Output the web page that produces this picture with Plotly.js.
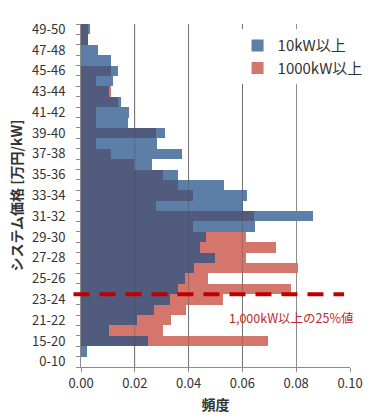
<!DOCTYPE html>
<html>
<head>
<meta charset="utf-8">
<script src="https://cdn.plot.ly/plotly-3.0.1.min.js"></script>
<style>html,body{margin:0;padding:0;background:#fff;}#chart{width:383px;height:419px;}</style>
</head>
<body>
<div id="chart"></div>
<script>
// Price bins (万円/kW), bottom to top
var categories = ['0-10','10-15','15-20','20-21','21-22','22-23','23-24','24-25','25-26','26-27',
  '27-28','28-29','29-30','30-31','31-32','32-33','33-34','34-35','35-36','36-37',
  '37-38','38-39','39-40','40-41','41-42','42-43','43-44','44-45','45-46','46-47',
  '47-48','48-49','49-50'];
// Frequency, 10kW以上
var kw10 = [0, 0.0024, 0.0250, 0.0105, 0.0207, 0.0273, 0.0331, 0.0362, 0.0387, 0.0420,
  0.0498, 0.0442, 0.0464, 0.0646, 0.0863, 0.0603, 0.0618, 0.0532, 0.0359, 0.0265,
  0.0377, 0.0284, 0.0312, 0.0173, 0.0179, 0.0149, 0.0105, 0.0118, 0.0139, 0.0110,
  0.0062, 0.0025, 0.0034];
// Frequency, 1000kW以上
var kw1000 = [0, 0, 0.0696, 0.0306, 0.0333, 0.0389, 0.0529, 0.0780, 0.0473, 0.0807,
  0.0612, 0.0724, 0.0612, 0.0418, 0.0643, 0.0279, 0.0418, 0.0362, 0.0306, 0.0197,
  0.0111, 0.0055, 0.0279, 0.0055, 0.0055, 0.0139, 0.0110, 0.0055, 0.0110, 0,
  0, 0.0025, 0.0025];
var seriesNames = ['10kW以上', '1000kW以上'];
var quartileLabel = '1,000kW以上の25%値';
var quartileBoundary = ['23-24', '24-25']; // line drawn between these bins
var xTicks = [0.02, 0.04, 0.06, 0.08, 0.10];

var idx = categories.map(function(c, i){ return i; });
var overlap = kw10.map(function(v, i){ return Math.min(v, kw1000[i]); });
var tickIdx = idx.filter(function(i){ return i % 2 === 0; });
var tickTxt = tickIdx.map(function(i){ return categories[i]; });
var lineY = (categories.indexOf(quartileBoundary[0]) + categories.indexOf(quartileBoundary[1])) / 2;

var font = 'Noto Sans CJK JP, sans-serif';
var traces = [
  {type:'bar', orientation:'h', x:kw10, y:idx, name:seriesNames[0], legendgroup:'a',
   marker:{color:'#5C7EA7', line:{width:0}}, hoverinfo:'skip'},
  {type:'bar', orientation:'h', x:kw1000, y:idx, name:seriesNames[1], legendgroup:'b',
   marker:{color:'#D4766C', line:{width:0}}, hoverinfo:'skip'},
  {type:'bar', orientation:'h', x:overlap, y:idx, showlegend:false,
   marker:{color:'#505B7E', line:{width:0}}, hoverinfo:'skip'}
];
// faint gridlines showing through the bars
var gridOver = xTicks.slice(0, 3).map(function(v){
  return {type:'line', xref:'x', yref:'paper', x0:v, x1:v, y0:0, y1:1, layer:'above',
    line:{color:'rgba(70,70,70,0.35)', width:1}};
});
var layout = {
  width:383, height:419,
  margin:{l:80.5, r:33, t:24, b:52},
  paper_bgcolor:'#fff', plot_bgcolor:'rgba(0,0,0,0)',
  font:{family:font, color:'#333', size:13},
  barmode:'overlay', bargap:0,
  showlegend:true,
  legend:{x:0.582, xanchor:'left', y:0.985, yanchor:'top', bgcolor:'#fff',
    font:{family:font, size:15, color:'#333'}, tracegroupgap:4, traceorder:'normal'},
  xaxis:{range:[0,0.1], tickvals:[0].concat(xTicks), tickformat:'.2f', showgrid:true, gridcolor:'#8c8c8c', gridwidth:1,
    showline:true, linecolor:'#8c8c8c', linewidth:1, ticks:'outside', ticklen:4, tickcolor:'#8c8c8c',
    zeroline:false, tickfont:{size:13, color:'#333'},
    title:{text:'<b>頻度</b>', font:{size:14, color:'#333'}, standoff:9}},
  yaxis:{range:[-0.5,32.5], tickvals:tickIdx, ticktext:tickTxt, showgrid:false, zeroline:false,
    showline:true, linecolor:'#8c8c8c', linewidth:1, ticks:'', ticklabelstandoff:12,
    minor:{ticks:'outside', ticklen:4, tickcolor:'#8c8c8c', tick0:-0.5, dtick:1, showgrid:false},
    tickfont:{size:13, color:'#333'},
    title:{text:'<b>システム価格 [万円/kW]</b>', font:{size:14, color:'#333'}, standoff:6}},
  shapes:gridOver.concat([{type:'line', xref:'paper', yref:'y', x0:-0.028, x1:0.978, y0:lineY, y1:lineY,
    line:{color:'#C00000', width:4, dash:'16px,10px'}}]),
  annotations:[{xref:'paper', yref:'paper', x:0.542, y:0.143, xanchor:'left', yanchor:'middle',
    text:quartileLabel, showarrow:false, font:{family:font, size:12.5, color:'#C0282E'}}]
};
Plotly.newPlot('chart', traces, layout, {displayModeBar:false, staticPlot:true});
</script>
</body>
</html>
